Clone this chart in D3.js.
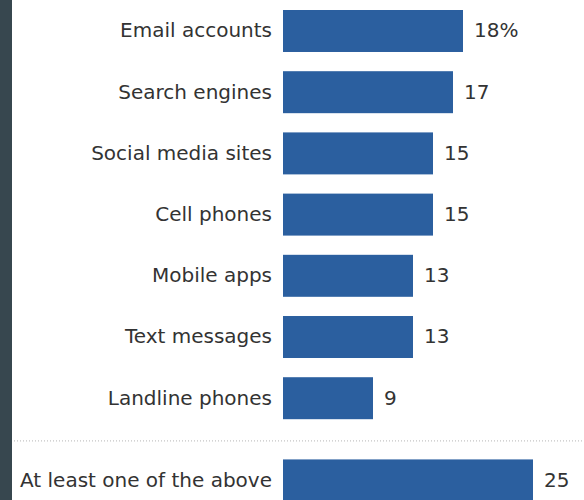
<!DOCTYPE html>
<html>
<head>
<meta charset="utf-8">
<script src="https://cdn.jsdelivr.net/npm/d3@7"></script>
<style>
  body { margin: 0; background: #fff; }
  svg { display: block; }
</style>
</head>
<body>
<svg width="584" height="500"></svg>
<script>
var categories = ["Email accounts", "Search engines", "Social media sites", "Cell phones",
                  "Mobile apps", "Text messages", "Landline phones"];
var values = [18, 17, 15, 15, 13, 13, 9];
var summaryLabel = "At least one of the above";
var summaryValue = 25;

var svg = d3.select("svg"),
    width = +svg.attr("width"),
    height = +svg.attr("height");

var barColor = "#2b5f9f",
    textColor = "#333";

// dark strip on the left edge
svg.append("rect")
    .attr("x", 0).attr("y", 0)
    .attr("width", 12).attr("height", height)
    .attr("fill", "#37474f");

var x = d3.scaleLinear()
    .domain([0, 25])
    .range([283, 533]);

var y = d3.scaleBand()
    .domain(categories)
    .range([10, 419.2])
    .paddingInner(0.314)
    .paddingOuter(0);

var sepY = y(categories[categories.length - 1]) + y.step() + 2;
var summaryY = y(categories[categories.length - 1]) + y.step() + 21;

var rows = categories.map(function(d, i) {
  return {label: d, value: values[i], y: y(d), first: i === 0};
});
rows.push({label: summaryLabel, value: summaryValue, y: summaryY, first: false});

var g = svg.append("g");

var row = g.selectAll("g.row")
  .data(rows)
  .enter().append("g")
    .attr("class", "row")
    .attr("transform", function(d) { return "translate(0," + d.y + ")"; });

row.append("rect")
    .attr("x", x(0))
    .attr("width", function(d) { return x(d.value) - x(0); })
    .attr("height", y.bandwidth())
    .attr("fill", barColor);

row.append("text")
    .attr("x", x(0) - 11)
    .attr("y", y.bandwidth() / 2)
    .attr("dy", "0.32em")
    .attr("text-anchor", "end")
    .attr("fill", textColor)
    .style("font-family", "'DejaVu Sans', sans-serif")
    .style("font-size", "20px")
    .text(function(d) { return d.label; });

row.append("text")
    .attr("x", function(d) { return x(d.value) + 11; })
    .attr("y", y.bandwidth() / 2)
    .attr("dy", "0.32em")
    .attr("fill", textColor)
    .style("font-family", "'DejaVu Sans', sans-serif")
    .style("font-size", "20px")
    .text(function(d) { return d.first ? d.value + "%" : d.value; });

// dotted separator above the summary row
svg.append("line")
    .attr("x1", 14).attr("x2", width)
    .attr("y1", sepY + 0.5).attr("y2", sepY + 0.5)
    .attr("stroke", "#b5b5b5")
    .attr("stroke-width", 1)
    .attr("stroke-dasharray", "1,2");
</script>
</body>
</html>
